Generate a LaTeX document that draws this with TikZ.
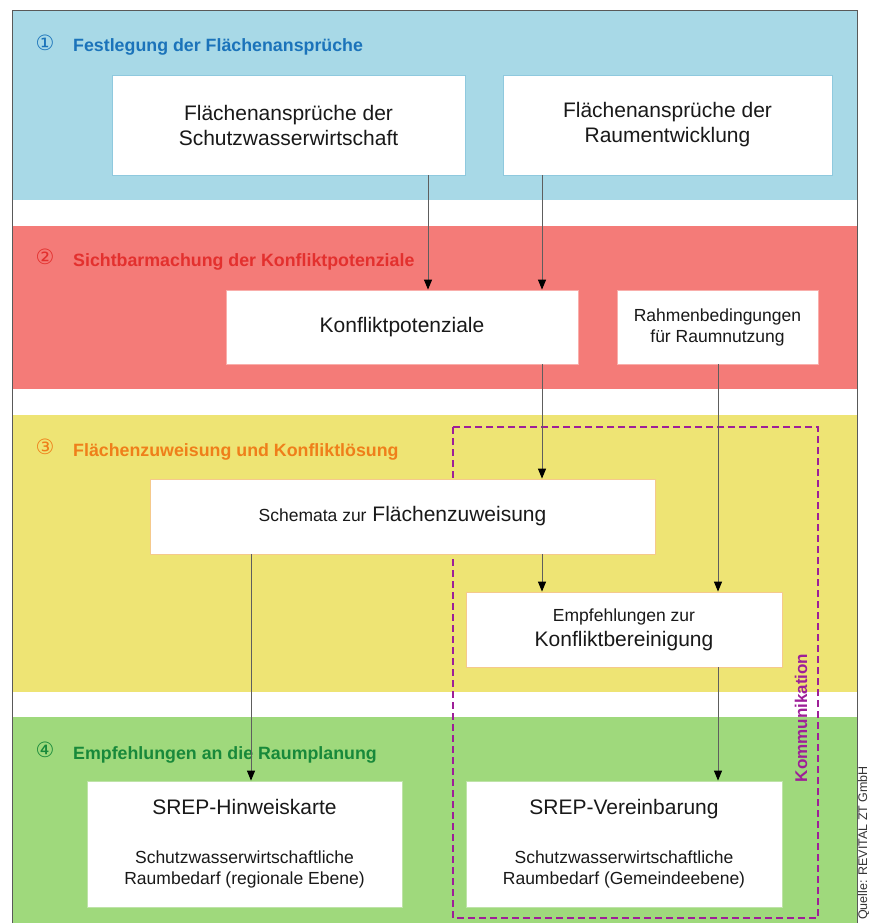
\documentclass[tikz,border=0pt]{standalone}
\usepackage{fontspec}
\setmainfont{Liberation Sans}
\newfontfamily\circfont{DejaVu Sans}
\usetikzlibrary{arrows.meta}

\definecolor{bandblue}{HTML}{A8D9E7}
\definecolor{bandred}{HTML}{F47B78}
\definecolor{bandyellow}{HTML}{EEE474}
\definecolor{bandgreen}{HTML}{9FD97C}
\definecolor{bdblue}{HTML}{8FC9DE}
\definecolor{bdred}{HTML}{F9AEAB}
\definecolor{bdyellow}{HTML}{F5C98C}
\definecolor{bdgreen}{HTML}{BEE3A8}
\definecolor{headblue}{HTML}{1B73BA}
\definecolor{headred}{HTML}{E3302E}
\definecolor{headorange}{HTML}{EF7F1A}
\definecolor{headgreen}{HTML}{18893A}
\definecolor{kommpurple}{HTML}{9E1F98}
\definecolor{linegray}{HTML}{5E5E5E}

\newcommand{\bigtext}{\fontsize{21}{25}\selectfont}
\newcommand{\smalltext}{\fontsize{17.5}{21}\selectfont}

\tikzset{
  box/.style={draw=#1, fill=white, line width=0.8pt, align=center, inner sep=0pt, text=black!90},
  head/.style={anchor=base west, inner sep=0pt, font=\fontsize{17.8}{20}\selectfont\bfseries},
  num/.style={inner sep=0pt, font=\circfont\fontsize{21}{22}\selectfont},
  arr/.style={draw=linegray, line width=1pt, -{Triangle[length=10pt,width=8pt,color=black]}},
}

\begin{document}
\begin{tikzpicture}[x=1pt,y=-1pt]
\useasboundingbox (0,0) rectangle (869,923);
% bands
\fill[bandblue] (12,10) rectangle (857,200);
\fill[bandred] (12,226) rectangle (857,389);
\fill[bandyellow] (12,415) rectangle (857,692);
\fill[bandgreen] (12,717) rectangle (857,923);
\draw[gray!70!black, line width=0.8pt] (12,923) -- (12,10) -- (857,10) -- (857,923);

% headings
\node[num, text=headblue] (n1) at (45,43) {①};
\node[head, text=headblue] (h1) at (73,52) {Festlegung der Flächenansprüche};
\node[num, text=headred] (n2) at (45,257) {②};
\node[head, text=headred] (h2) at (73,266) {Sichtbarmachung der Konfliktpotenziale};
\node[num, text=headorange] (n3) at (45,447) {③};
\node[head, text=headorange] (h3) at (73,456) {Flächenzuweisung und Konfliktlösung};
\node[num, text=headgreen] (n4) at (45,750) {④};
\node[head, text=headgreen] (h4) at (73,759) {Empfehlungen an die Raumplanung};

% Kommunikation
\draw[kommpurple, line width=1.6pt, dash pattern=on 7pt off 4pt] (453,427) rectangle (818,918);
\node[rotate=90, font=\fontsize{17}{20}\selectfont\bfseries, text=kommpurple] (komm) at (801,718) {Kommunikation};

% boxes
\node[box=bdblue, minimum width=353pt, minimum height=100pt, font=\bigtext] (anspr) at (288.5,125) {Flächenansprüche der\\Schutzwasserwirtschaft};
\node[box=bdblue, minimum width=329pt, minimum height=100pt, font=\bigtext] (raum) at (667.5,125) {Flächenansprüche der\\Raumentwicklung};
\node[box=bdred, minimum width=352pt, minimum height=74pt, font=\bigtext] (konf) at (402,327) {Konfliktpotenziale};
\node[box=bdred, minimum width=201pt, minimum height=74pt, font=\smalltext] (rahmen) at (717.5,327) {Rahmenbedingungen\\für Raumnutzung};
\node[box=bdyellow, minimum width=505pt, minimum height=75pt, font=\bigtext] (schema) at (402.5,516.5) {{\smalltext Schemata zur} Flächenzuweisung};
\node[box=bdyellow, minimum width=316pt, minimum height=75pt, font=\bigtext] (empf) at (624,629.5) {{\smalltext Empfehlungen zur}\\Konfliktbereinigung};
\node[box=bdgreen, minimum width=315pt, minimum height=126pt, font=\smalltext] (hinweis) at (244.5,844) {{\bigtext SREP-Hinweiskarte}\\[28pt]Schutzwasserwirtschaftliche\\Raumbedarf (regionale Ebene)};
\node[box=bdgreen, minimum width=316pt, minimum height=126pt, font=\smalltext] (verein) at (624,844) {{\bigtext SREP-Vereinbarung}\\[28pt]Schutzwasserwirtschaftliche\\Raumbedarf (Gemeindeebene)};

% source
\node[rotate=90, anchor=base west, inner sep=0pt, font=\fontsize{12.5}{15}\selectfont, text=black!80] (quelle) at (867,920) {Quelle: REVITAL ZT GmbH};

% connectors
\coordinate (xa) at (428,0);
\coordinate (xb) at (542,0);
\coordinate (xc) at (718,0);
\coordinate (xd) at (251,0);
\draw[arr] (anspr.south -| xa) -- (konf.north -| xa);
\draw[arr] (raum.south -| xb) -- (konf.north -| xb);
\draw[arr] (konf.south -| xb) -- (schema.north -| xb);
\draw[arr] (schema.south -| xb) -- (empf.north -| xb);
\draw[arr] (rahmen.south -| xc) -- (empf.north -| xc);
\draw[arr] (empf.south -| xc) -- (verein.north -| xc);
\draw[arr] (schema.south -| xd) -- (hinweis.north -| xd);
\end{tikzpicture}
\end{document}
